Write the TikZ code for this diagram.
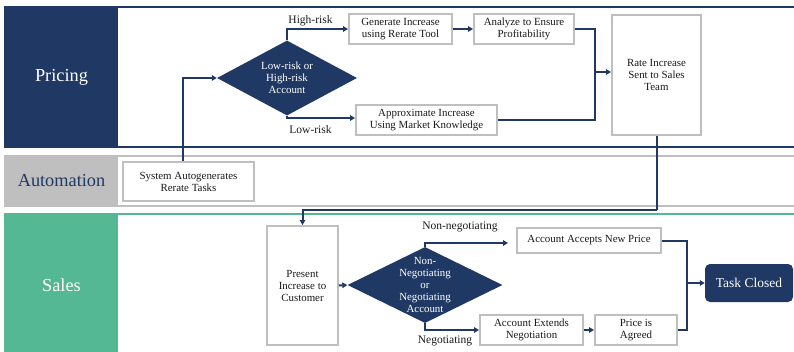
\documentclass[tikz,border=0pt]{standalone}
\usepackage{fontspec}
\setmainfont{Liberation Serif}
\usetikzlibrary{shapes.geometric,arrows.meta,calc}
\definecolor{navy}{HTML}{203864}
\definecolor{sgreen}{HTML}{55B894}
\definecolor{lgray}{HTML}{BFBFBF}
\definecolor{txt}{HTML}{1A1A1A}
\begin{document}
\begin{tikzpicture}[x=1pt,y=-1pt,
  lane/.style={line width=1.8pt},
  lanelbl/.style={font=\fontsize{18.3}{20}\selectfont,inner sep=0pt},
  box/.style={draw=lgray,line width=1.9pt,fill=white,align=center,text=txt,
    font=\fontsize{10.9}{12}\selectfont,inner sep=0pt},
  dia/.style={shape=diamond,fill=navy,inner sep=0pt,aspect=2},
  dtext/.style={align=center,text=white,font=\fontsize{10.9}{12}\selectfont,inner sep=0pt},
  elbl/.style={text=txt,font=\fontsize{11.5}{13}\selectfont,inner sep=0pt},
  arr/.style={draw=navy,line width=2pt,-{Triangle[length=5pt,width=5.5pt]}},
  ln/.style={draw=navy,line width=2pt}]
\useasboundingbox (0,0) rectangle (794,351);
\clip (0,0) rectangle (794,351);
% lanes
\draw[navy,lane] (5,7) rectangle (810,147);
\fill[navy] (5,7) rectangle (118,147);
\node[lanelbl,text=white] (pl) at (61.5,77) {Pricing};
\draw[lgray,lane] (5,156) rectangle (810,206);
\fill[lgray] (5,156) rectangle (118,206);
\node[lanelbl,text=navy] (al) at (61.5,181) {Automation};
\draw[sgreen,line width=1.5pt] (5,214) rectangle (810,360);
\fill[sgreen] (5,214) rectangle (118,360);
\node[lanelbl,text=white] (sl) at (61.5,285) {Sales};
% nodes
\node[box,minimum width=131pt,minimum height=39pt] (sys) at (188.5,181.5) {System Autogenerates\\Rerate Tasks};
\node[dia,minimum width=140pt,minimum height=75pt] (d1) at (287,78) {};
\node[dtext] (d1t) at (d1.center) {Low-risk or\\High-risk\\Account};
\node[box,minimum width=103pt,minimum height=30pt] (gen) at (400.5,29) {Generate Increase\\using Rerate Tool};
\node[box,minimum width=100pt,minimum height=30pt] (ana) at (524,29) {Analyze to Ensure\\Profitability};
\node[box,minimum width=141pt,minimum height=30pt] (appr) at (426.5,120) {Approximate Increase\\Using Market Knowledge};
\node[box,minimum width=89pt,minimum height=120pt] (rate) at (656.5,75) {Rate Increase\\Sent to Sales\\Team};
\node[box,minimum width=71pt,minimum height=119pt] (pres) at (302.5,285.5) {Present\\Increase to\\Customer};
\node[dia,minimum width=155pt,minimum height=76pt] (d2) at (425,285) {};
\node[dtext] (d2t) at (d2.center) {Non-\\Negotiating\\or\\Negotiating\\Account};
\node[box,minimum width=144pt,minimum height=25pt] (acc) at (589,240.5) {Account Accepts New Price};
\node[box,minimum width=103pt,minimum height=30pt] (ext) at (531.5,330) {Account Extends\\Negotiation};
\node[box,minimum width=82pt,minimum height=30pt] (agr) at (636,330) {Price is\\Agreed};
\node[fill=navy,rounded corners=5pt,minimum width=88pt,minimum height=38pt,text=white,
  font=\fontsize{13.5}{15}\selectfont,inner sep=0pt] (task) at (749,283) {Task Closed};
% junctions
\coordinate (j1) at (595,72);
\coordinate (j2) at (657,210);
\coordinate (j3) at (687,283);
% connectors
\draw[arr] ([xshift=-5.5pt]sys.north) |- (d1.west);
\draw[arr] (d1.north) |- (gen.west);
\node[elbl] (hr) at (310.5,21) {High-risk};
\draw[arr] (d1.south) |- ([yshift=2pt]appr.west);
\node[elbl] (lr) at (310.5,130) {Low-risk};
\draw[arr] (gen.east) -- (ana.east -| ana.west);
\draw[ln] (ana.east) -| (j1);
\draw[ln] (appr.east) -| (j1);
\draw[arr] (j1) -- (j1 -| rate.west);
\draw[arr] (rate.south) |- (j2) -| (pres.north);
\draw[arr] (pres.east) -- (d2.west);
\draw[arr,shorten >=8pt] (d2.north) |- ([yshift=-2.5pt]acc.west);
\node[elbl] (nn) at (460,227) {Non-negotiating};
\draw[arr] (d2.south) |- (ext.west);
\node[elbl] (ng) at (445,341) {Negotiating};
\draw[arr] (ext.east) -- (agr.west);
\draw[ln] (acc.east) -| (j3);
\draw[ln] (agr.east) -| (j3);
\draw[arr] (j3) -- (task.west);
\end{tikzpicture}
\end{document}
